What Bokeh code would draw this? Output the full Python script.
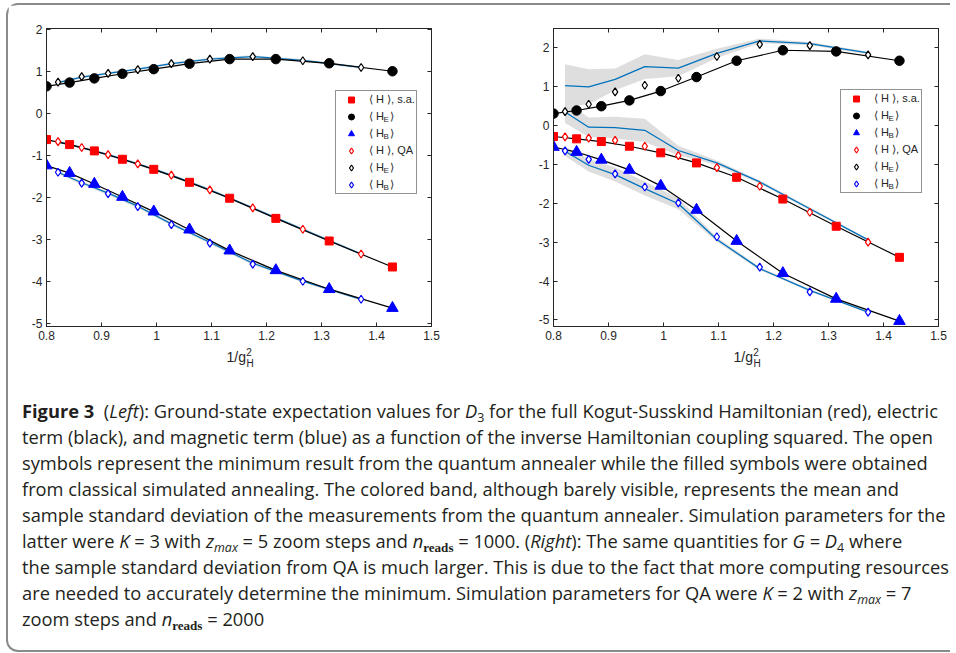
from bokeh.plotting import figure
from bokeh.models import Range1d, LinearAxis, FixedTicker, Legend, LegendItem, Div
from bokeh.layouts import column, row
from bokeh.embed import file_html
from bokeh.resources import INLINE
from bokeh.core.properties import value

# ---------------- data ----------------
x_sa = [0.800, 0.842, 0.887, 0.938, 0.995, 1.060, 1.133, 1.217, 1.314, 1.429]
x_qa = [0.821, 0.864, 0.912, 0.966, 1.027, 1.097, 1.175, 1.266, 1.372]

# Left panel (D3)
HE_sa_L = [0.65, 0.74, 0.84, 0.95, 1.06, 1.19, 1.30, 1.30, 1.20, 1.01]
H_sa_L = [-0.62, -0.74, -0.89, -1.09, -1.33, -1.64, -2.02, -2.50, -3.04, -3.66]
HB_sa_L = [-1.24, -1.42, -1.68, -1.99, -2.34, -2.77, -3.27, -3.74, -4.19, -4.64]
HE_qa_L = [0.75, 0.88, 0.96, 1.05, 1.19, 1.30, 1.36, 1.26, 1.10]
H_qa_L = [-0.67, -0.81, -0.98, -1.20, -1.47, -1.82, -2.25, -2.76, -3.35]
HB_qa_L = [-1.40, -1.66, -1.91, -2.22, -2.65, -3.09, -3.59, -4.00, -4.43]
HE_mean_L = [0.74, 0.87, 0.96, 1.06, 1.19, 1.30, 1.36, 1.27, 1.10]
H_mean_L = [-0.67, -0.81, -0.98, -1.20, -1.47, -1.82, -2.25, -2.76, -3.35]
HB_mean_L = [-1.40, -1.65, -1.90, -2.21, -2.63, -3.07, -3.57, -4.00, -4.43]
HE_std_L = [0.03, 0.03, 0.03, 0.03, 0.03, 0.03, 0.03, 0.03, 0.03]
H_std_L = [0.03, 0.03, 0.03, 0.03, 0.03, 0.03, 0.03, 0.03, 0.03]
HB_std_L = [0.04, 0.04, 0.04, 0.04, 0.04, 0.04, 0.04, 0.03, 0.03]

# Right panel (D4)
HE_sa_R = [0.31, 0.39, 0.50, 0.65, 0.89, 1.25, 1.67, 1.94, 1.91, 1.67]
H_sa_R = [-0.28, -0.34, -0.41, -0.53, -0.70, -0.96, -1.33, -1.89, -2.59, -3.39]
HB_sa_R = [-0.55, -0.68, -0.88, -1.14, -1.55, -2.17, -2.97, -3.80, -4.46, -5.03]
HE_qa_R = [0.36, 0.55, 0.87, 1.04, 1.22, 1.78, 2.09, 2.06, 1.82]
H_qa_R = [-0.29, -0.32, -0.38, -0.53, -0.77, -1.08, -1.56, -2.23, -3.00]
HB_qa_R = [-0.65, -0.87, -1.24, -1.58, -1.99, -2.86, -3.64, -4.28, -4.80]
HE_mean_R = [1.03, 1.00, 1.19, 1.52, 1.48, 1.86, 2.18, 2.11, 1.87]
H_mean_R = [0.35, -0.04, -0.05, -0.12, -0.64, -0.96, -1.45, -2.14, -2.94]
HB_mean_R = [-0.66, -1.02, -1.26, -1.62, -2.01, -2.93, -3.68, -4.24, -4.80]
HE_std_R = [0.55, 0.45, 0.28, 0.32, 0.21, 0.12, 0.06, 0.04, 0.03]
H_std_R = [0.28, 0.25, 0.28, 0.30, 0.12, 0.06, 0.04, 0.04, 0.03]
HB_std_R = [0.12, 0.16, 0.18, 0.18, 0.14, 0.06, 0.04, 0.03, 0.03]

x_ticks = [0.8, 0.9, 1.0, 1.1, 1.2, 1.3, 1.4, 1.5]
x_tick_labels = ["0.8", "0.9", "1", "1.1", "1.2", "1.3", "1.4", "1.5"]
y_ticks = [-5, -4, -3, -2, -1, 0, 1, 2]
y_tick_labels = ["-5", "-4", "-3", "-2", "-1", "0", "1", "2"]

legend_labels = ["\u27e8 H \u27e9, s.a.", "\u27e8 H  \u27e9", "\u27e8 H  \u27e9",
                 "\u27e8 H \u27e9, QA", "\u27e8 H  \u27e9", "\u27e8 H  \u27e9"]
legend_subs = [(1, "E"), (2, "B"), (4, "E"), (5, "B")]

caption_lines = [
    '<b>Figure 3</b>&nbsp;&nbsp;(<i>Left</i>): Ground-state expectation values for <i>D</i><sub>3</sub> for the full Kogut-Susskind Hamiltonian (red), electric',
    'term (black), and magnetic term (blue) as a function of the inverse Hamiltonian coupling squared. The open',
    'symbols represent the minimum result from the quantum annealer while the filled symbols were obtained',
    'from classical simulated annealing. The colored band, although barely visible, represents the mean and',
    'sample standard deviation of the measurements from the quantum annealer. Simulation parameters for the',
    'latter were <i>K</i> = 3 with <i>z</i><sub><i>max</i></sub> = 5 zoom steps and <i>n</i><sub><b class="rd">reads</b></sub> = 1000. (<i>Right</i>): The same quantities for <i>G</i> = <i>D</i><sub>4</sub> where',
    'the sample standard deviation from QA is much larger. This is due to the fact that more computing resources',
    'are needed to accurately determine the minimum. Simulation parameters for QA were <i>K</i> = 2 with <i>z</i><sub><i>max</i></sub> = 7',
    'zoom steps and <i>n</i><sub><b class="rd">reads</b></sub> = 2000',
]

AX = "#262626"
FONT = "Liberation Sans"
FRAME_W, FRAME_H, FRAME_TOP = 385, 298, 28
CONTENT_TOP = 5      # page y where the figures start
MAIN_H = 340         # height of each chart figure
XLAB_H = 40          # height of the strip holding the x-axis titles
XLAB_TOP = CONTENT_TOP + MAIN_H


def make_panel(width, min_left, frame_left_win, y_lo, y_hi, HE_sa, H_sa, HB_sa,
               HE_qa, H_qa, HB_qa, HE_m, H_m, HB_m, HE_s, H_s, HB_s, leg_loc):
    top_b = FRAME_TOP - CONTENT_TOP
    p = figure(width=width, height=MAIN_H, x_range=Range1d(0.8, 1.5), y_range=Range1d(y_lo, y_hi),
               output_backend="svg", toolbar_location=None,
               min_border_left=min_left, min_border_right=width - min_left - FRAME_W,
               min_border_top=top_b, min_border_bottom=MAIN_H - top_b - FRAME_H)
    p.xgrid.visible = False
    p.ygrid.visible = False
    p.outline_line_color = AX
    p.background_fill_color = "white"
    p.border_fill_color = "white"

    def dx(px):
        return 0.8 + (px - frame_left_win) / FRAME_W * 0.7

    def dy(py):
        return y_hi - (py - FRAME_TOP) / FRAME_H * (y_hi - y_lo)

    xover = {t: s for t, s in zip(x_ticks, x_tick_labels)}
    yover = {t: s for t, s in zip(y_ticks, y_tick_labels)}
    for ax in (p.xaxis[0], p.yaxis[0]):
        ax.major_tick_in = 4
        ax.major_tick_out = 0
        ax.minor_tick_line_color = None
        ax.axis_line_color = AX
        ax.major_tick_line_color = AX
        ax.major_label_text_font = FONT
        ax.major_label_text_font_size = "12px"
        ax.major_label_text_color = AX
    p.xaxis[0].ticker = FixedTicker(ticks=x_ticks)
    p.xaxis[0].major_label_overrides = xover
    p.xaxis[0].major_label_standoff = 4
    p.yaxis[0].ticker = FixedTicker(ticks=y_ticks)
    p.yaxis[0].major_label_overrides = yover
    p.yaxis[0].major_label_standoff = 4
    for place, tk in (("above", x_ticks), ("right", y_ticks)):
        ax = LinearAxis(ticker=FixedTicker(ticks=tk), major_label_text_font_size="1px",
                        major_label_text_color=None, major_label_standoff=0,
                        major_tick_in=4, major_tick_out=0,
                        minor_tick_line_color=None, axis_line_color=AX, major_tick_line_color=AX)
        p.add_layout(ax, place)

    band_col = "#dedede"
    for m, s in ((HE_m, HE_s), (H_m, H_s), (HB_m, HB_s)):
        lo = [a - b for a, b in zip(m, s)]
        hi = [a + b for a, b in zip(m, s)]
        p.varea(x=x_qa, y1=lo, y2=hi, fill_color=band_col, fill_alpha=1.0)
    for m in (HE_m, H_m, HB_m):
        p.line(x_qa, m, line_color="#0072bd", line_width=1.3)
    for sa in (HE_sa, H_sa, HB_sa):
        p.line(x_sa, sa, line_color="black", line_width=1.2)

    r_sq = p.scatter(x_sa, H_sa, marker="square", size=8, fill_color="#ff0000", line_color="#ff0000")
    r_ci = p.scatter(x_sa, HE_sa, marker="circle", size=9.5, fill_color="black", line_color="black")
    r_tr = p.scatter(x_sa, HB_sa, marker="triangle", size=11.5, fill_color="#0000ff", line_color="#0000ff")
    r_dh = p.scatter(x_qa, H_qa, marker="diamond", size=8, fill_color="white", line_color="#ff0000", line_width=1.2)
    r_de = p.scatter(x_qa, HE_qa, marker="diamond", size=8, fill_color="white", line_color="black", line_width=1.2)
    r_db = p.scatter(x_qa, HB_qa, marker="diamond", size=8, fill_color="white", line_color="#0000ff", line_width=1.2)

    rends = [r_sq, r_ci, r_tr, r_dh, r_de, r_db]
    items = [LegendItem(label=lab, renderers=[r]) for lab, r in zip(legend_labels, rends)]
    pad, lh, sp, gw, st = 1, 15, 2, 28, 4
    # transparent box (no data passes under it) so the subscripts drawn below stay visible
    leg = Legend(items=items, location=leg_loc, padding=pad, spacing=sp, label_height=lh,
                 glyph_height=lh, glyph_width=gw, label_standoff=st, margin=0,
                 border_line_color=AX, border_line_width=1, background_fill_color="white",
                 background_fill_alpha=0.0, label_text_font=FONT, label_text_font_size="11px",
                 label_text_color=AX)
    p.add_layout(leg)

    # subscripts of the legend entries (rows counted from the legend's bottom edge)
    n = len(legend_labels)
    leg_bottom = FRAME_TOP + FRAME_H - leg_loc[1]
    last_center = leg_bottom - 3 - pad - lh / 2
    text_x = frame_left_win + leg_loc[0] + pad + gw + st
    sx, sy, st_ = [], [], []
    for i, sub in legend_subs:
        cy = last_center - (n - 1 - i) * (lh + sp)
        sx.append(dx(text_x + 15.0))
        sy.append(dy(cy + 4.5))
        st_.append(sub)
    p.text(x=sx, y=sy, text=st_, text_font=value(FONT), text_font_size=value("8px"),
           text_color=AX, text_baseline="middle", text_align="left")
    return p


def make_xlabel(width, frame_left_win, panel_left_win):
    f = figure(width=width, height=XLAB_H, x_range=Range1d(0, width), y_range=Range1d(XLAB_H, 0),
               output_backend="svg", toolbar_location=None, min_border=0,
               x_axis_location=None, y_axis_location=None)
    f.grid.visible = False
    f.outline_line_color = None
    f.background_fill_color = "white"
    f.border_fill_color = "white"
    cx = frame_left_win + FRAME_W / 2 - panel_left_win
    parts = [("1/g", cx - 12.5, 356.0, "14px"), ("2", cx + 7.2, 351.0, "10px"),
             ("H", cx + 7.5, 363.0, "10px")]
    for txt, x, ym, size in parts:
        f.text(x=[x], y=[ym - XLAB_TOP], text=[txt], text_font=value(FONT),
               text_font_size=value(size), text_color=AX, text_baseline="middle",
               text_align="left")
    return f


p_left = make_panel(470, 38, 46, -5.08, 2.03, HE_sa_L, H_sa_L, HB_sa_L, HE_qa_L, H_qa_L, HB_qa_L,
                    HE_mean_L, H_mean_L, HB_mean_L, HE_std_L, H_std_L, HB_std_L, (289, 132))
p_right = make_panel(472, 75, 553, -5.17, 2.50, HE_sa_R, H_sa_R, HB_sa_R, HE_qa_R, H_qa_R, HB_qa_R,
                     HE_mean_R, H_mean_R, HB_mean_R, HE_std_R, H_std_R, HB_std_R, (287, 133))
xl_left = make_xlabel(470, 46, 8)
xl_right = make_xlabel(472, 553, 478)

cap_html = (
    '<style>.cap sub{font-size:68%;line-height:0;vertical-align:-0.3em}'
    '.cap .rd{font-family:"Liberation Serif",serif;font-weight:bold;font-size:105%}</style>'
    '<div class="cap" style="font-family:\'Open Sans\';font-size:18.3px;line-height:26px;'
    'color:#231f20;padding:13px 0 0 14px;white-space:nowrap;">'
    + "<br>".join(caption_lines) + '</div>'
)
caption = Div(text=cap_html, width=942, height=265, margin=(0, 0, 0, 0))

layout = column(row(p_left, p_right), row(xl_left, xl_right), caption,
                styles={"border-top": "2px solid #8a8a8a", "border-left": "2px solid #8a8a8a",
                        "border-bottom": "2px solid #8a8a8a", "border-top-left-radius": "12px",
                        "border-bottom-left-radius": "12px", "margin-left": "6px",
                        "margin-top": "3px", "background": "white"})

open("out.html", "w").write(file_html(layout, INLINE))
